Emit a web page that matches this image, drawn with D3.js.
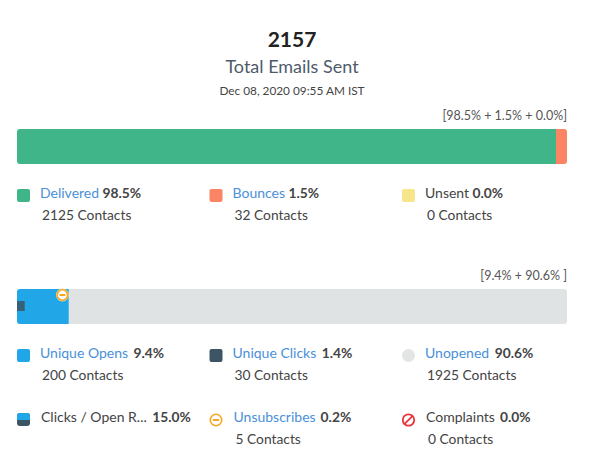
<!DOCTYPE html>
<html>
<head>
<meta charset="utf-8">
<script src="https://cdn.jsdelivr.net/npm/d3@7"></script>
<style>
  html, body { margin: 0; padding: 0; background: #fff; }
  svg { display: block; font-family: Lato, sans-serif; }
</style>
</head>
<body>
<svg width="591" height="469"></svg>
<script>
const svg = d3.select("svg");

const totalSent = 2157;
const totalLabel = "Total Emails Sent";
const dateLabel = "Dec 08, 2020 09:55 AM IST";

// first bar
const deliveryNames = ["Delivered", "Bounces", "Unsent"];
const deliveryPct = [98.5, 1.5, 0.0];
const deliveryContacts = [2125, 32, 0];
const deliveryLinked = [true, true, false];
const deliveryColors = ["#41b58a", "#fb8465", "#f6e58a"];
const deliveryCaption = "[98.5% + 1.5% + 0.0%]";

// second bar
const engageNames = ["Unique Opens", "Unique Clicks", "Unopened"];
const engagePct = [9.4, 1.4, 90.6];
const engageContacts = [200, 30, 1925];
const engageColors = ["#21a7e8", "#3d5465", "#e3e5e5"];
const engageCaption = "[9.4% + 90.6% ]";

// last legend row
const extraNames = ["Clicks / Open R...", "Unsubscribes", "Complaints"];
const extraPct = [15.0, 0.2, 0.0];
const extraContacts = [null, 5, 0];
const extraLinked = [false, true, false];

const textColor = "#444";
const linkColor = "#4a90d9";
const trackColor = "#dfe3e3";

const x = d3.scaleLinear().domain([0, 100]).range([17, 567]);
const barHeight = 35;
const minSegment = 11; // small slices don't get thinner than this
const columns = [17, 209.5, 402];

// heading
const center = 292;
svg.append("text").attr("x", center).attr("y", 47).attr("text-anchor", "middle")
  .attr("font-size", 21).attr("font-weight", 700).attr("fill", "#222").text(totalSent);
svg.append("text").attr("x", center).attr("y", 73).attr("text-anchor", "middle")
  .attr("font-size", 18).attr("fill", "#4f5b6b").text(totalLabel);
svg.append("text").attr("x", center).attr("y", 95).attr("text-anchor", "middle")
  .attr("font-size", 11.8).attr("fill", textColor).text(dateLabel);

function caption(y, str) {
  svg.append("text").attr("x", 567).attr("y", y).attr("text-anchor", "end")
    .attr("font-size", 12.5).attr("fill", "#555").text(str);
}

// group clipped to the rounded track
function stackBar(id, y) {
  svg.append("clipPath").attr("id", id).append("rect")
    .attr("x", x(0)).attr("y", y).attr("width", x(100) - x(0))
    .attr("height", barHeight).attr("rx", 3);
  return svg.append("g").attr("clip-path", `url(#${id})`);
}

function legendText(g, item, tx) {
  const label = g.append("text").attr("x", tx).attr("y", 9).attr("font-size", 14);
  label.append("tspan").attr("fill", item.linked ? linkColor : textColor).text(item.name);
  label.append("tspan").attr("dx", item.gap).attr("font-weight", 700).attr("font-size", 13.8)
    .attr("fill", textColor).text(item.pct.toFixed(1) + "%");
  if (item.contacts !== null) {
    g.append("text").attr("x", tx + 2).attr("y", 31).attr("font-size", 13.8)
      .attr("fill", textColor).text(item.contacts + " Contacts");
  }
}

// ---- delivery
caption(120, deliveryCaption);
const bar1 = stackBar("clip1", 129);
bar1.append("rect").attr("x", x(0)).attr("y", 129)
  .attr("width", x(deliveryPct[0]) - x(0)).attr("height", barHeight).attr("fill", deliveryColors[0]);
const bounceWidth = Math.max(minSegment, x(deliveryPct[1]) - x(0));
bar1.append("rect").attr("x", x(100) - bounceWidth).attr("y", 129)
  .attr("width", bounceWidth).attr("height", barHeight).attr("fill", deliveryColors[1]);

deliveryNames.forEach((name, i) => {
  const g = svg.append("g").attr("transform", `translate(${columns[i]},189)`);
  g.append("rect").attr("width", 13).attr("height", 13).attr("rx", 2)
    .attr("fill", deliveryColors[i]);
  legendText(g, { name, pct: deliveryPct[i], contacts: deliveryContacts[i], linked: deliveryLinked[i], gap: 3.5 }, 23);
});

// ---- engagement
caption(280, engageCaption);
const bar2 = stackBar("clip2", 289);
bar2.append("rect").attr("x", x(0)).attr("y", 289)
  .attr("width", x(100) - x(0)).attr("height", barHeight).attr("fill", trackColor);
bar2.append("rect").attr("x", x(0)).attr("y", 289)
  .attr("width", x(engagePct[0]) - x(0)).attr("height", barHeight).attr("fill", engageColors[0]);
bar2.append("rect").attr("x", x(0)).attr("y", 301)
  .attr("width", x(engagePct[1]) - x(0)).attr("height", 10)
  .attr("fill", engageColors[1]).attr("fill-opacity", 0.85);

function unsubIcon(g, cx, cy, r, halo) {
  if (halo) g.append("circle").attr("cx", cx).attr("cy", cy).attr("r", r + 1.2).attr("fill", "#fbe3a6");
  g.append("circle").attr("cx", cx).attr("cy", cy).attr("r", r)
    .attr("fill", halo ? "#fff" : "none").attr("stroke", "#f5a623").attr("stroke-width", 1.6);
  g.append("rect").attr("x", cx - r * 0.55).attr("y", cy - 1).attr("width", r * 1.1)
    .attr("height", 2).attr("fill", "#f5a623");
}
unsubIcon(svg, x(engagePct[0]) - 6.3, 295, 5.2, true);

engageNames.forEach((name, i) => {
  const g = svg.append("g").attr("transform", `translate(${columns[i]},349)`);
  g.append("rect").attr("width", 13).attr("height", 13).attr("rx", i === 2 ? 6.5 : 2)
    .attr("fill", engageColors[i]);
  legendText(g, { name, pct: engagePct[i], contacts: engageContacts[i], linked: true, gap: 5.5 }, 23);
});

// ---- last row
extraNames.forEach((name, i) => {
  const g = svg.append("g").attr("transform", `translate(${columns[i]},413)`);
  if (i === 0) {
    g.append("rect").attr("width", 13).attr("height", 13).attr("rx", 3).attr("fill", engageColors[1]);
    g.append("path").attr("d", "M0,7V3a3,3 0 0 1 3,-3H10a3,3 0 0 1 3,3V7Z").attr("fill", engageColors[0]);
  } else if (i === 1) {
    unsubIcon(g, 6.5, 7, 5.7, false);
  } else {
    g.append("circle").attr("cx", 6.5).attr("cy", 7).attr("r", 5.7)
      .attr("fill", "none").attr("stroke", "#e8343a").attr("stroke-width", 1.8);
    g.append("line").attr("x1", 2.6).attr("y1", 10.9).attr("x2", 10.4).attr("y2", 3.1)
      .attr("stroke", "#e8343a").attr("stroke-width", 1.8);
  }
  legendText(g, { name, pct: extraPct[i], contacts: extraContacts[i], linked: extraLinked[i], gap: i === 0 ? 5.5 : 5 }, i === 0 ? 24 : 24);
});
</script>
</body>
</html>
